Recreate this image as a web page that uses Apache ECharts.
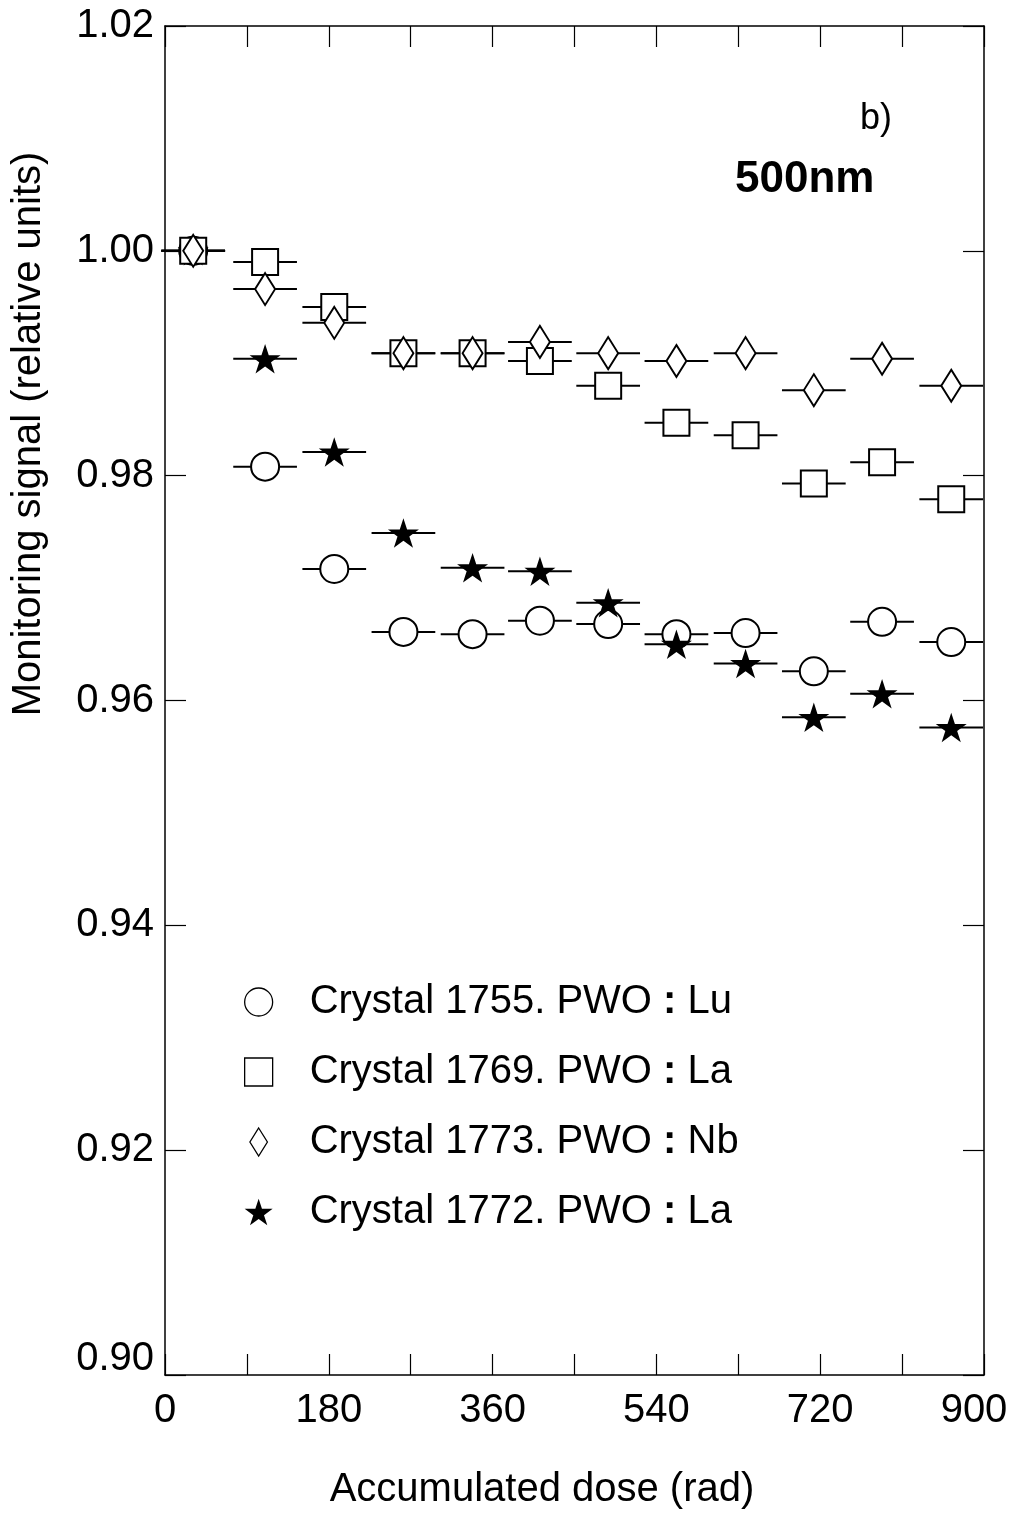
<!DOCTYPE html>
<html>
<head>
<meta charset="utf-8">
<script src="https://cdn.jsdelivr.net/npm/echarts@6/dist/echarts.min.js"></script>
<style>
  html, body { margin: 0; padding: 0; background: #fff; overflow: hidden; }
  #chart { width: 1012px; height: 1515px; }
</style>
</head>
<body>
<div id="chart"></div>
<script>
// Accumulated dose at each measurement (rad) and the half-width of its dose bin
const doseRad = [31, 110, 186, 262, 338, 412, 487, 562, 638, 713, 788, 864];
const doseHalfWidth = 35;

// Monitoring signal, relative to the first measurement
const crystal1755Lu = [1.000, 0.9808, 0.9717, 0.9661, 0.9659, 0.9671, 0.9668, 0.9659, 0.9660, 0.9626, 0.9670, 0.9652];
const crystal1769La = [1.000, 0.9990, 0.9950, 0.9909, 0.9909, 0.9902, 0.9880, 0.9847, 0.9836, 0.9793, 0.9812, 0.9779];
const crystal1773Nb = [1.000, 0.9966, 0.9936, 0.9909, 0.9909, 0.9919, 0.9909, 0.9902, 0.9909, 0.9876, 0.9904, 0.9880];
const crystal1772La = [1.000, 0.9904, 0.9821, 0.9749, 0.9718, 0.9715, 0.9687, 0.9650, 0.9633, 0.9585, 0.9606, 0.9576];

// Axis ranges and tick steps
const xMin = 0, xMax = 900, xStep = 90, xLabelStep = 180;
const yMin = 0.90, yMax = 1.02, yStep = 0.02;

const FONT = "'Liberation Sans', Arial, Helvetica, sans-serif";

const STAR = 'path://M0,-1L0.2245,-0.309L0.9511,-0.309L0.3633,0.118L0.5878,0.809L0,0.382L-0.5878,0.809L-0.3633,0.118L-0.9511,-0.309L-0.2245,-0.309Z';
const DIAMOND = 'path://M0,-16L10,0L0,16L-10,0Z';

const crystals = [
  { name: 'Crystal 1755. PWO : Lu', values: crystal1755Lu, symbol: 'circle', size: 28, fill: '#fff', icon: 'circle' },
  { name: 'Crystal 1769. PWO : La', values: crystal1769La, symbol: 'rect', size: 26, fill: '#fff', icon: 'rect' },
  { name: 'Crystal 1773. PWO : Nb', values: crystal1773Nb, symbol: 'diamond', size: [20, 32], fill: '#fff', icon: DIAMOND },
  { name: 'Crystal 1772. PWO : La', values: crystal1772La, symbol: STAR, size: 31, fill: '#000', icon: STAR }
];
// Stacking of the shared starting point (index 0): the star sits underneath there
const startOrder = [3, 0, 1, 2];

// Horizontal bars spanning each dose bin
function binBar(params, api) {
  const x = api.value(0), y = api.value(1), e = api.value(2);
  const a = api.coord([x - e, y]);
  const b = api.coord([x + e, y]);
  return {
    type: 'line',
    shape: { x1: a[0], y1: a[1], x2: b[0], y2: b[1] },
    style: { stroke: '#000', lineWidth: 2 }
  };
}

function markerSeries(c, name, data, z) {
  return {
    type: 'scatter',
    name: name,
    symbol: c.symbol,
    symbolSize: c.size,
    symbolKeepAspect: true,
    itemStyle: { color: c.fill, borderColor: '#000', borderWidth: c.fill === '#000' ? 0 : 2, opacity: 1 },
    data: data,
    z: z,
    silent: true
  };
}

const series = [];
crystals.forEach(function (c) {
  series.push({
    type: 'custom',
    name: c.name + ' bins',
    renderItem: binBar,
    encode: { x: 0, y: 1 },
    data: doseRad.map(function (d, i) { return [d, c.values[i], doseHalfWidth]; }),
    z: 1,
    silent: true
  });
});
startOrder.forEach(function (k) {
  const c = crystals[k];
  series.push(markerSeries(c, c.name + ' start', [[doseRad[0], c.values[0]]], 2));
});
crystals.forEach(function (c) {
  series.push(markerSeries(c, c.name,
    doseRad.slice(1).map(function (d, i) { return [d, c.values[i + 1]]; }), 3));
});

const axisLine = { show: true, onZero: false, lineStyle: { color: '#000', width: 1.5 } };
const axisTick = { show: true, inside: true, length: 21, lineStyle: { color: '#000', width: 1.2 } };

const option = {
  animation: false,
  backgroundColor: '#fff',
  grid: { left: 165, right: 28, top: 26, bottom: 140, containLabel: false, outerBoundsMode: 'none' },
  xAxis: [
    {
      type: 'value', min: xMin, max: xMax, interval: xStep, position: 'bottom',
      axisLine: axisLine, axisTick: axisTick, splitLine: { show: false },
      axisLabel: {
        margin: 16, color: '#000', fontFamily: FONT, fontSize: 40,
        formatter: function (v) {
          if (v % xLabelStep !== 0) return '';
          return v === xMax ? '{end|' + v + '}' : String(v);
        },
        rich: { end: { fontFamily: FONT, fontSize: 40, color: '#000', padding: [0, 20, 0, 0] } }
      }
    },
    {
      type: 'value', min: xMin, max: xMax, interval: xStep, position: 'top',
      axisLine: axisLine, axisTick: axisTick, splitLine: { show: false },
      axisLabel: { show: false }
    }
  ],
  yAxis: [
    {
      type: 'value', min: yMin, max: yMax, interval: yStep, position: 'left',
      axisLine: axisLine, axisTick: axisTick, splitLine: { show: false },
      axisLabel: {
        margin: 11, color: '#000', fontFamily: FONT, fontSize: 40,
        formatter: function (v) {
          const s = v.toFixed(2);
          return Math.abs(v - yMin) < 1e-9 ? '{low|' + s + '}' : s;
        },
        rich: { low: { fontFamily: FONT, fontSize: 40, color: '#000', padding: [0, 0, 32, 0] } }
      }
    },
    {
      type: 'value', min: yMin, max: yMax, interval: yStep, position: 'right',
      axisLine: axisLine, axisTick: axisTick, splitLine: { show: false },
      axisLabel: { show: false }
    }
  ],
  legend: {
    orient: 'vertical',
    left: 244,
    top: 982,
    padding: 0,
    itemWidth: 28,
    itemHeight: 28,
    itemGap: 30,
    selectedMode: false,
    data: crystals.map(function (c) {
      return { name: c.name, icon: c.icon, itemStyle: { borderWidth: c.fill === '#000' ? 0 : 1.3 } };
    }),
    formatter: function (name) {
      const parts = name.split(' : ');
      return '{gap|}{t|' + parts[0] + ' }{c|:}{t| ' + parts[1] + '}';
    },
    textStyle: {
      color: '#000',
      rich: {
        gap: { width: 32 },
        t: { fontFamily: FONT, fontSize: 40, lineHeight: 40, color: '#000' },
        c: { fontFamily: FONT, fontSize: 40, lineHeight: 40, fontWeight: 'bold', color: '#000' }
      }
    }
  },
  graphic: [
    {
      type: 'text', x: 29, y: 434, rotation: Math.PI / 2,
      style: {
        text: 'Monitoring signal (relative units)', font: '40px ' + FONT, fill: '#000',
        align: 'center', verticalAlign: 'middle', textAlign: 'center', textVerticalAlign: 'middle'
      }
    },
    {
      type: 'text', x: 542, y: 1490,
      style: {
        text: 'Accumulated dose (rad)', font: '40px ' + FONT, fill: '#000',
        align: 'center', verticalAlign: 'middle', textAlign: 'center', textVerticalAlign: 'middle'
      }
    },
    {
      type: 'text', x: 860, y: 119,
      style: {
        text: 'b)', font: '36px ' + FONT, fill: '#000',
        align: 'left', verticalAlign: 'middle', textAlign: 'left', textVerticalAlign: 'middle'
      }
    },
    {
      type: 'text', x: 735, y: 180,
      style: {
        text: '500nm', font: 'bold 44px ' + FONT, fill: '#000',
        align: 'left', verticalAlign: 'middle', textAlign: 'left', textVerticalAlign: 'middle'
      }
    }
  ],
  series: series
};

const chart = echarts.init(document.getElementById('chart'), null, { renderer: 'canvas' });
chart.setOption(option);
</script>
</body>
</html>
